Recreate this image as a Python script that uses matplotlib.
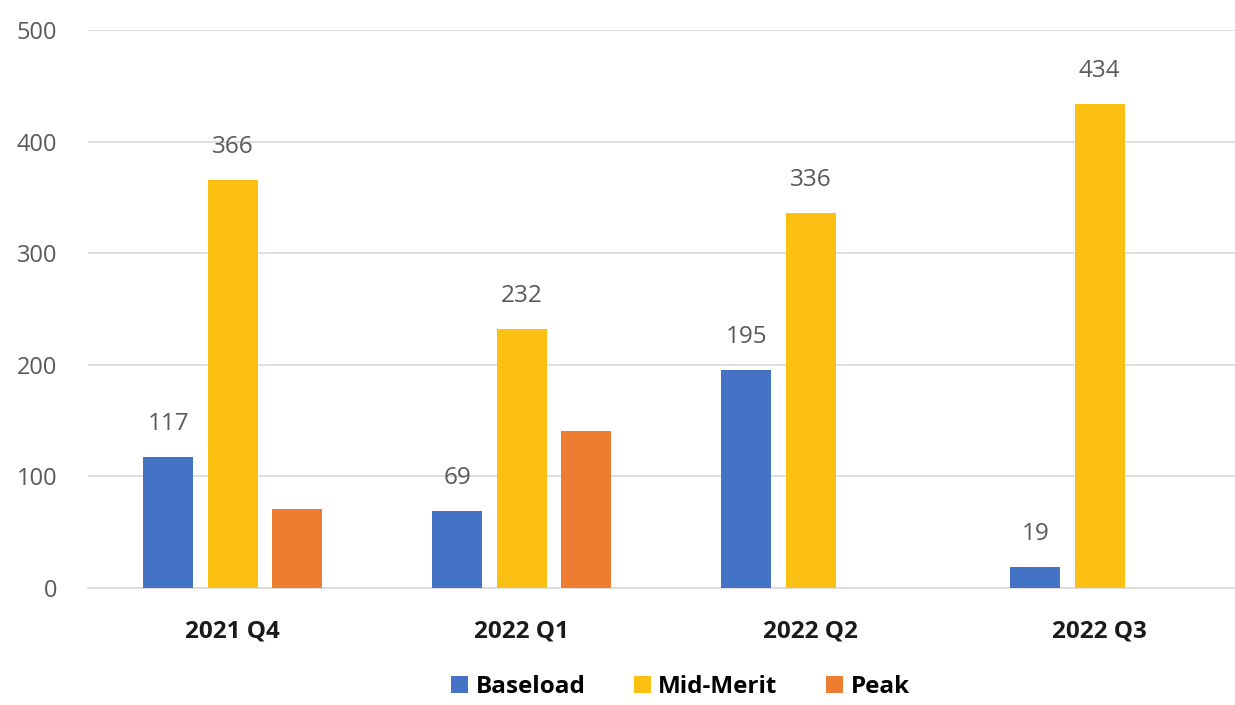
import numpy as np
import matplotlib.pyplot as plt

# quarterly volumes by plant type
quarters = ["2021 Q4", "2022 Q1", "2022 Q2", "2022 Q3"]
baseload = [117, 69, 195, 19]
mid_merit = [366, 232, 336, 434]
peak = [71, 141, 0, 0]

series = [
    ("Baseload", baseload, "#4472C4", True),
    ("Mid-Merit", mid_merit, "#FBC012", True),
    ("Peak", peak, "#ED7D31", False),
]

plt.rcParams["font.family"] = ["Open Sans", "DejaVu Sans"]

fig = plt.figure(figsize=(12.35, 7.05), dpi=100)
ax = fig.add_axes([0.0713, 0.166, 0.936, 0.791])

x = np.arange(len(quarters))
width = 0.173
step = 0.222

for i, (name, vals, color, show_labels) in enumerate(series):
    pos = x + (i - 1) * step
    bars = ax.bar(pos, vals, width, color=color, label=name, zorder=3)
    if show_labels:
        for b, v in zip(bars, vals):
            ax.text(b.get_x() + b.get_width() / 2, v + 19, str(v),
                    ha="center", va="bottom", fontsize=17.5, color="#595959")

ax.set_xlim(-0.5, len(quarters) - 0.5)
ax.set_ylim(0, 500)
ax.set_yticks(range(0, 501, 100))
ax.yaxis.grid(True, color="#D9D9D9", linewidth=1.2, zorder=0)
ax.tick_params(axis="y", length=0, labelsize=17, labelcolor="#595959", pad=22)
ax.set_xticks(x)
ax.set_xticklabels(quarters, fontsize=17.5, fontweight="bold", color="#1a1a1a")
ax.tick_params(axis="x", length=0, pad=23)
for s in ["top", "right", "left"]:
    ax.spines[s].set_visible(False)
ax.spines["bottom"].set_color("#D9D9D9")
ax.spines["bottom"].set_linewidth(1.2)

leg = fig.legend(loc="lower center", bbox_to_anchor=(0.551, -0.022), ncol=3,
                 frameon=False, handlelength=0.7, handleheight=0.7,
                 handletextpad=0.3, columnspacing=2.0,
                 prop={"size": 17.5, "weight": "bold"})

fig.savefig("out.png", dpi=100)
